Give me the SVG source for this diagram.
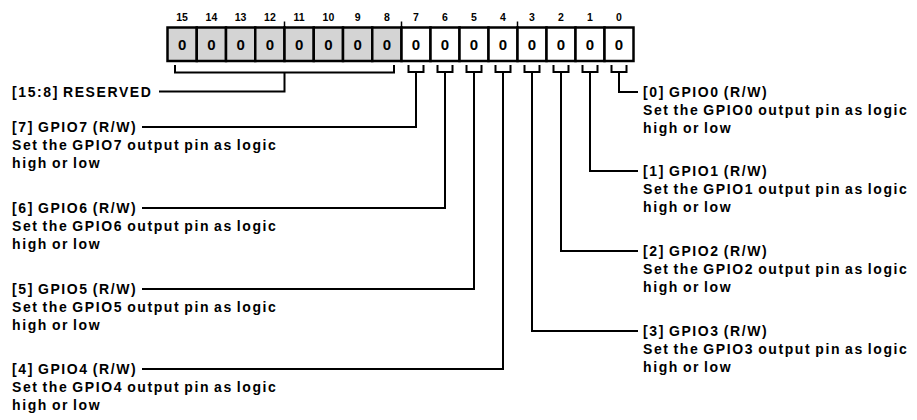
<svg xmlns="http://www.w3.org/2000/svg" width="917" height="420" viewBox="0 0 917 420">
<style>
text{font-family:"Liberation Sans",Arial,sans-serif;font-weight:bold;fill:#000}
.bn{font-size:10.5px;text-anchor:middle}
.v{font-size:15px;text-anchor:middle}
.lb{font-size:14px;letter-spacing:1.6px;word-spacing:-1.5px}
.cell{stroke:#000;stroke-width:2.5}
.g{fill:#d4d4d4}
.w{fill:#fff}
.ln{fill:none;stroke:#000;stroke-width:2;stroke-linejoin:miter;stroke-linecap:butt}
.tk{stroke:#000;stroke-width:1.5}
</style>
<g id="register">
<rect class="cell g" x="167.5" y="27.5" width="29.25" height="33.5"/>
<rect class="cell g" x="196.75" y="27.5" width="29.25" height="33.5"/>
<rect class="cell g" x="226" y="27.5" width="29.25" height="33.5"/>
<rect class="cell g" x="255.25" y="27.5" width="29.25" height="33.5"/>
<rect class="cell g" x="284.5" y="27.5" width="29.25" height="33.5"/>
<rect class="cell g" x="313.75" y="27.5" width="29.25" height="33.5"/>
<rect class="cell g" x="343" y="27.5" width="29.25" height="33.5"/>
<rect class="cell g" x="372.25" y="27.5" width="29.25" height="33.5"/>
<rect class="cell w" x="401.5" y="27.5" width="29" height="33.5"/>
<rect class="cell w" x="430.5" y="27.5" width="29" height="33.5"/>
<rect class="cell w" x="459.5" y="27.5" width="29" height="33.5"/>
<rect class="cell w" x="488.5" y="27.5" width="29" height="33.5"/>
<rect class="cell w" x="517.5" y="27.5" width="29" height="33.5"/>
<rect class="cell w" x="546.5" y="27.5" width="29" height="33.5"/>
<rect class="cell w" x="575.5" y="27.5" width="29" height="33.5"/>
<rect class="cell w" x="604.5" y="27.5" width="29" height="33.5"/>
<line class="tk" x1="284.5" y1="21.5" x2="284.5" y2="27.5"/>
<line class="tk" x1="401.5" y1="21.5" x2="401.5" y2="27.5"/>
<line class="tk" x1="517.5" y1="21.5" x2="517.5" y2="27.5"/>
<text class="bn" x="182.1" y="20.5">15</text>
<text class="bn" x="211.4" y="20.5">14</text>
<text class="bn" x="240.6" y="20.5">13</text>
<text class="bn" x="269.9" y="20.5">12</text>
<text class="bn" x="299.1" y="20.5">11</text>
<text class="bn" x="328.4" y="20.5">10</text>
<text class="bn" x="357.6" y="20.5">9</text>
<text class="bn" x="386.9" y="20.5">8</text>
<text class="bn" x="416" y="20.5">7</text>
<text class="bn" x="445" y="20.5">6</text>
<text class="bn" x="474" y="20.5">5</text>
<text class="bn" x="503" y="20.5">4</text>
<text class="bn" x="532" y="20.5">3</text>
<text class="bn" x="561" y="20.5">2</text>
<text class="bn" x="590" y="20.5">1</text>
<text class="bn" x="619" y="20.5">0</text>
<text class="v" x="182.1" y="49.5">0</text>
<text class="v" x="211.4" y="49.5">0</text>
<text class="v" x="240.6" y="49.5">0</text>
<text class="v" x="269.9" y="49.5">0</text>
<text class="v" x="299.1" y="49.5">0</text>
<text class="v" x="328.4" y="49.5">0</text>
<text class="v" x="357.6" y="49.5">0</text>
<text class="v" x="386.9" y="49.5">0</text>
<text class="v" x="416" y="49.5">0</text>
<text class="v" x="445" y="49.5">0</text>
<text class="v" x="474" y="49.5">0</text>
<text class="v" x="503" y="49.5">0</text>
<text class="v" x="532" y="49.5">0</text>
<text class="v" x="561" y="49.5">0</text>
<text class="v" x="590" y="49.5">0</text>
<text class="v" x="619" y="49.5">0</text>
</g>
<g id="connectors">
<path class="ln" d="M175,65V72.5H394V65M284.5,72.5V91.5H159"/>
<path class="ln" d="M408.5,65V72H423.5V65M416,72V127H142"/>
<path class="ln" d="M437.5,65V72H452.5V65M445,72V208H142"/>
<path class="ln" d="M466.5,65V72H481.5V65M474,72V289H142"/>
<path class="ln" d="M495.5,65V72H510.5V65M503,72V369H142"/>
<path class="ln" d="M524.5,65V72H539.5V65M532,72V331H638"/>
<path class="ln" d="M553.5,65V72H568.5V65M561,72V251H638"/>
<path class="ln" d="M582.5,65V72H597.5V65M590,72V171H638"/>
<path class="ln" d="M611.5,65V72H626.5V65M619,72V92H638"/>
</g>
<g id="reserved"><text class="lb" x="12" y="96.5">[15:8] RESERVED</text></g>
<g id="gpio7"><text class="lb" x="12" y="132">[7] GPIO7 (R/W)</text><text class="lb" x="12" y="150">Set the GPIO7 output pin as logic</text><text class="lb" x="12" y="168">high or low</text></g>
<g id="gpio6"><text class="lb" x="12" y="213">[6] GPIO6 (R/W)</text><text class="lb" x="12" y="231">Set the GPIO6 output pin as logic</text><text class="lb" x="12" y="249">high or low</text></g>
<g id="gpio5"><text class="lb" x="12" y="294">[5] GPIO5 (R/W)</text><text class="lb" x="12" y="312">Set the GPIO5 output pin as logic</text><text class="lb" x="12" y="330">high or low</text></g>
<g id="gpio4"><text class="lb" x="12" y="374">[4] GPIO4 (R/W)</text><text class="lb" x="12" y="392">Set the GPIO4 output pin as logic</text><text class="lb" x="12" y="410">high or low</text></g>
<g id="gpio0"><text class="lb" x="643" y="97">[0] GPIO0 (R/W)</text><text class="lb" x="643" y="115">Set the GPIO0 output pin as logic</text><text class="lb" x="643" y="133">high or low</text></g>
<g id="gpio1"><text class="lb" x="643" y="176">[1] GPIO1 (R/W)</text><text class="lb" x="643" y="194">Set the GPIO1 output pin as logic</text><text class="lb" x="643" y="212">high or low</text></g>
<g id="gpio2"><text class="lb" x="643" y="256">[2] GPIO2 (R/W)</text><text class="lb" x="643" y="274">Set the GPIO2 output pin as logic</text><text class="lb" x="643" y="292">high or low</text></g>
<g id="gpio3"><text class="lb" x="643" y="336">[3] GPIO3 (R/W)</text><text class="lb" x="643" y="354">Set the GPIO3 output pin as logic</text><text class="lb" x="643" y="372">high or low</text></g>
</svg>
